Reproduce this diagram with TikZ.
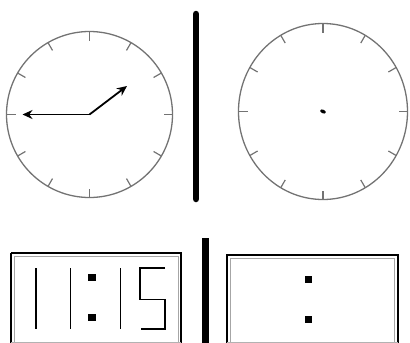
\documentclass[tikz,border=0pt]{standalone}
\usetikzlibrary{arrows.meta,calc}
\begin{document}
\begin{tikzpicture}[x=1bp,y=-1bp,
  face/.style={draw=black!55,line width=1.3bp},
  tick/.style={draw=black!55,line width=1.2bp},
  hand/.style={draw=black,line width=1.8bp,-{Stealth[length=10bp,width=9bp]}},
  bar/.style={line width=6.5bp,line cap=round},
  lcd/.style={draw=black,line width=2bp},
  lcdin/.style={draw=black!35,line width=1bp},
  seg/.style={draw=black,line width=1.8bp},
  dot/.style={fill=black,minimum size=7.5bp,inner sep=0pt,draw=none}]
\useasboundingbox (0,0) rectangle (410,343);
% left analog clock
\coordinate (c1) at (89.5,114.5);
\draw[face] (c1) circle[radius=83];
\foreach \a in {0,30,...,330}
  \draw[tick] ($(c1)+(\a:83)$) -- ($(c1)+(\a:74)$);
\coordinate (mh) at (22.5,114.5);
\coordinate (hh) at (127,86);
\draw[hand] (c1) -- (mh);
\draw[hand] (c1) -- (hh);
% divider top
\coordinate (b1t) at (196,14);
\coordinate (b1b) at (196,199);
\draw[bar] (b1t) -- (b1b);
% right analog clock
\coordinate (c2) at (323,111.5);
\draw[face] (c2) ellipse[x radius=84.5,y radius=88];
\foreach \a in {0,30,...,330}
  \draw[tick] ($(c2)+({84.5*cos(\a)},{88*sin(\a)})$) -- ($(c2)+({75.5*cos(\a)},{79*sin(\a)})$);
\fill[black,rotate around={-25:(c2)}] (c2) ellipse[x radius=3,y radius=1.8];
% left digital clock
\draw[lcd] (11,253) -- (11,343);
\draw[lcd] (11,253) -- (181,253) -- (181,343);
\draw[lcdin] (14,343) -- (14,256) -- (178,256) -- (178,343);
\draw[draw=black!30,line width=1bp] (11,342) -- (181,342);
\draw[seg] (36,268) -- (36,329);
\draw[seg] (70.5,268) -- (70.5,329);
\node[dot] (d1) at (92,277.5) {};
\node[dot] (d2) at (92,317.5) {};
\draw[seg] (120.5,268) -- (120.5,329);
\draw[seg,line cap=butt] (165,268) -- (140,268) -- (140,299.5) -- (165,299.5) -- (165,329) -- (141,329);
% divider bottom
\coordinate (b2t) at (205.5,238);
\coordinate (b2b) at (205.5,345);
\draw[bar,line cap=butt] (b2t) -- (b2b);
% right digital clock
\draw[lcd] (227,343) -- (227,255) -- (397.5,255) -- (397.5,343);
\draw[lcdin] (230,343) -- (230,258) -- (394.5,258) -- (394.5,343);
\draw[draw=black!30,line width=1bp] (227,342) -- (397.5,342);
\node[dot] (d3) at (308.5,279.5) {};
\node[dot] (d4) at (308.5,319.5) {};
\end{tikzpicture}
\end{document}
